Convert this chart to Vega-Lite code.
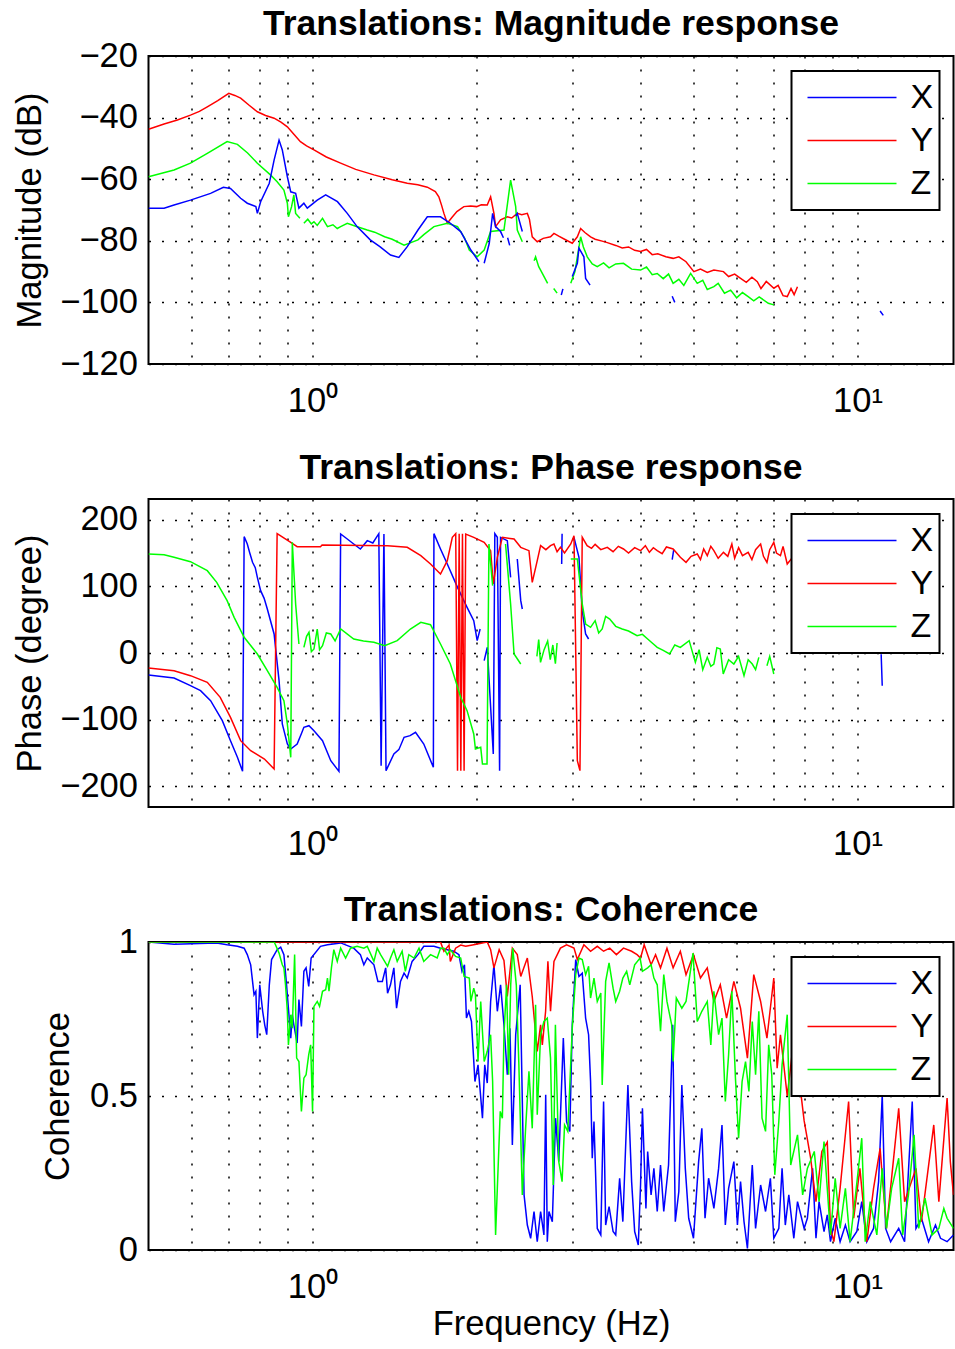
{
"$schema":"https://vega.github.io/schema/vega-lite/v6.json",
"background":"white",
"padding":{"left":11.5,"top":5,"right":1,"bottom":10},
"bounds":"flush",
"spacing":135,
"config":{
"font":"Liberation Sans",
"view":{"stroke":"black","strokeWidth":2},
"axis":{"labelFont":"Liberation Sans","labelFontSize":34.5,"labelColor":"black","titleFont":"Liberation Sans","titleFontSize":34.5,"titleFontWeight":"normal","titleColor":"black","grid":true,"gridColor":"black","gridDash":[2,11],"gridWidth":1.5,"gridOpacity":1,"domain":false,"ticks":false},
"title":{"font":"Liberation Sans","fontSize":35.5,"fontWeight":"bold","color":"black","anchor":"middle","frame":"group","offset":16},
"legend":{"strokeWidth":2}
},
"datasets":{
"mag":[
{"f":0.5,"s":"Y","v":-43.8},{"f":0.534,"s":"Y","v":-42.1},{"f":0.565,"s":"Y","v":-40.8},{"f":0.597,"s":"Y","v":-39.2},{"f":0.62,"s":"Y","v":-38.0},{"f":0.641,"s":"Y","v":-36.5},{"f":0.67,"s":"Y","v":-34.5},{"f":0.702,"s":"Y","v":-32.1},{"f":0.72,"s":"Y","v":-32.8},{"f":0.738,"s":"Y","v":-33.7},{"f":0.765,"s":"Y","v":-36},{"f":0.792,"s":"Y","v":-38.1},{"f":0.82,"s":"Y","v":-39.3},{"f":0.85,"s":"Y","v":-40.2},{"f":0.875,"s":"Y","v":-41.5},{"f":0.899,"s":"Y","v":-43},{"f":0.925,"s":"Y","v":-45.5},{"f":0.95,"s":"Y","v":-47.8},{"f":0.975,"s":"Y","v":-49.2},{"f":1.006,"s":"Y","v":-50.5},{"f":1.06,"s":"Y","v":-52.8},{"f":1.126,"s":"Y","v":-54.8},{"f":1.2,"s":"Y","v":-56.8},{"f":1.296,"s":"Y","v":-58.6},{"f":1.4,"s":"Y","v":-60.2},{"f":1.492,"s":"Y","v":-61.3},{"f":1.56,"s":"Y","v":-61.8},{"f":1.624,"s":"Y","v":-62.6},{"f":1.68,"s":"Y","v":-64},{"f":1.705,"s":"Y","v":-65.7},{"f":1.725,"s":"Y","v":-68.5},{"f":1.742,"s":"Y","v":-71.1},{"f":1.767,"s":"Y","v":-74.3},{"f":1.8,"s":"Y","v":-72.5},{"f":1.84,"s":"Y","v":-70.5},{"f":1.895,"s":"Y","v":-68.9},{"f":1.95,"s":"Y","v":-68.7},{"f":2.0,"s":"Y","v":-68.9},{"f":2.04,"s":"Y","v":-68.3},{"f":2.092,"s":"Y","v":-68.4},{"f":2.122,"s":"Y","v":-65.7},{"f":2.152,"s":"Y","v":-71.1},{"f":2.167,"s":"Y","v":-75.4},{"f":2.213,"s":"Y","v":-73.2},{"f":2.277,"s":"Y","v":-72.2},{"f":2.32,"s":"Y","v":-72.6},{"f":2.375,"s":"Y","v":-71.1},{"f":2.42,"s":"Y","v":-71.5},{"f":2.478,"s":"Y","v":-71.1},{"f":2.5,"s":"Y","v":-73},{"f":2.53,"s":"Y","v":-78.7},{"f":2.584,"s":"Y","v":-80.3},{"f":2.65,"s":"Y","v":-79.2},{"f":2.733,"s":"Y","v":-78.7},{"f":2.773,"s":"Y","v":-77.6},{"f":2.83,"s":"Y","v":-78.5},{"f":2.9,"s":"Y","v":-79.5},{"f":2.996,"s":"Y","v":-80.8},{"f":3.061,"s":"Y","v":-78.7},{"f":3.104,"s":"Y","v":-76},{"f":3.16,"s":"Y","v":-77.3},{"f":3.237,"s":"Y","v":-78.7},{"f":3.3,"s":"Y","v":-79.5},{"f":3.4,"s":"Y","v":-80.1},{"f":3.474,"s":"Y","v":-80.6},{"f":3.6,"s":"Y","v":-81.5},{"f":3.7,"s":"Y","v":-82.3},{"f":3.8,"s":"Y","v":-82.0},{"f":3.9,"s":"Y","v":-83.1},{"f":3.998,"s":"Y","v":-83.5},{"f":4.1,"s":"Y","v":-82.8},{"f":4.2,"s":"Y","v":-84.5},{"f":4.3,"s":"Y","v":-84.2},{"f":4.45,"s":"Y","v":-85.2},{"f":4.588,"s":"Y","v":-85.7},{"f":4.7,"s":"Y","v":-85.2},{"f":4.845,"s":"Y","v":-86.8},{"f":5.008,"s":"Y","v":-90},{"f":5.15,"s":"Y","v":-89.2},{"f":5.3,"s":"Y","v":-90.3},{"f":5.45,"s":"Y","v":-89.5},{"f":5.675,"s":"Y","v":-90},{"f":5.8,"s":"Y","v":-91.6},{"f":5.95,"s":"Y","v":-90.8},{"f":6.101,"s":"Y","v":-92.2},{"f":6.25,"s":"Y","v":-93.5},{"f":6.4,"s":"Y","v":-91.8},{"f":6.548,"s":"Y","v":-93.3},{"f":6.65,"s":"Y","v":-95.5},{"f":6.8,"s":"Y","v":-93.2},{"f":7.023,"s":"Y","v":-95.4},{"f":7.15,"s":"Y","v":-94.5},{"f":7.3,"s":"Y","v":-97.8},{"f":7.432,"s":"Y","v":-98.1},{"f":7.55,"s":"Y","v":-95.5},{"f":7.65,"s":"Y","v":-97.5},{"f":7.759,"s":"Y","v":-94.9},
{"f":0.5,"s":"Z","v":-59.2},{"f":0.557,"s":"Z","v":-57},{"f":0.597,"s":"Z","v":-54.8},{"f":0.641,"s":"Z","v":-51.6},{"f":0.697,"s":"Z","v":-47.8},{"f":0.728,"s":"Z","v":-48.7},{"f":0.76,"s":"Z","v":-51.5},{"f":0.792,"s":"Z","v":-54.8},{"f":0.837,"s":"Z","v":-58.6},{"f":0.861,"s":"Z","v":-60.8},{"f":0.886,"s":"Z","v":-63.5},{"f":0.899,"s":"Z","v":-67.8},{"f":0.903,"s":"Z","v":-72.2},{"f":0.915,"s":"Z","v":-69},{"f":0.924,"s":"Z","v":-65.1},{"f":0.931,"s":"Z","v":-71.1},{"f":0.948,"s":"Z","v":-72.7},{"f":0.956,"s":"Z","v":null},{"f":0.964,"s":"Z","v":-74.3},{"f":0.98,"s":"Z","v":-73},{"f":0.995,"s":"Z","v":-74.5},{"f":1.006,"s":"Z","v":-73.8},{"f":1.02,"s":"Z","v":-75},{"f":1.043,"s":"Z","v":-72.7},{"f":1.065,"s":"Z","v":-75.4},{"f":1.09,"s":"Z","v":-74.8},{"f":1.11,"s":"Z","v":-76},{"f":1.126,"s":"Z","v":-75.4},{"f":1.158,"s":"Z","v":-74.3},{"f":1.2,"s":"Z","v":-75.3},{"f":1.26,"s":"Z","v":-76.5},{"f":1.3,"s":"Z","v":-77.2},{"f":1.356,"s":"Z","v":-78.7},{"f":1.4,"s":"Z","v":-79.5},{"f":1.472,"s":"Z","v":-81.4},{"f":1.561,"s":"Z","v":-79.7},{"f":1.6,"s":"Z","v":-78},{"f":1.67,"s":"Z","v":-75.4},{"f":1.767,"s":"Z","v":-74.3},{"f":1.845,"s":"Z","v":-75.4},{"f":1.9,"s":"Z","v":-79},{"f":1.939,"s":"Z","v":-83},{"f":2.005,"s":"Z","v":-85.2},{"f":2.065,"s":"Z","v":-83},{"f":2.122,"s":"Z","v":-77},{"f":2.245,"s":"Z","v":-76.5},{"f":2.309,"s":"Z","v":-60.3},{"f":2.359,"s":"Z","v":-68.9},{"f":2.375,"s":"Z","v":-76.5},{"f":2.426,"s":"Z","v":-80.3},{"f":2.49,"s":"Z","v":null},{"f":2.55,"s":"Z","v":-86.5},{"f":2.566,"s":"Z","v":-85.2},{"f":2.6,"s":"Z","v":-88.4},{"f":2.621,"s":"Z","v":-89.5},{"f":2.7,"s":"Z","v":-93.8},{"f":2.74,"s":"Z","v":null},{"f":2.77,"s":"Z","v":-95.5},{"f":2.81,"s":"Z","v":-97},{"f":2.9,"s":"Z","v":null},{"f":2.977,"s":"Z","v":-93.8},{"f":3.03,"s":"Z","v":-90},{"f":3.061,"s":"Z","v":-85.2},{"f":3.104,"s":"Z","v":-78.7},{"f":3.14,"s":"Z","v":-82},{"f":3.192,"s":"Z","v":-85.2},{"f":3.26,"s":"Z","v":-87.5},{"f":3.33,"s":"Z","v":-88.4},{"f":3.42,"s":"Z","v":-87.2},{"f":3.5,"s":"Z","v":-88.8},{"f":3.6,"s":"Z","v":-87.5},{"f":3.72,"s":"Z","v":-87.3},{"f":3.85,"s":"Z","v":-89.2},{"f":3.998,"s":"Z","v":-89.5},{"f":4.1,"s":"Z","v":-88.5},{"f":4.2,"s":"Z","v":-91},{"f":4.29,"s":"Z","v":-90.6},{"f":4.4,"s":"Z","v":-92.3},{"f":4.5,"s":"Z","v":-90.8},{"f":4.588,"s":"Z","v":-93.8},{"f":4.7,"s":"Z","v":-92.5},{"f":4.8,"s":"Z","v":-94.5},{"f":4.94,"s":"Z","v":-90.6},{"f":5.08,"s":"Z","v":-93.8},{"f":5.2,"s":"Z","v":-92.8},{"f":5.3,"s":"Z","v":-95.8},{"f":5.45,"s":"Z","v":-94.9},{"f":5.55,"s":"Z","v":-93.8},{"f":5.7,"s":"Z","v":-97},{"f":5.85,"s":"Z","v":-96},{"f":6.0,"s":"Z","v":-98.5},{"f":6.15,"s":"Z","v":-96.8},{"f":6.3,"s":"Z","v":-98.1},{"f":6.45,"s":"Z","v":-99.5},{"f":6.6,"s":"Z","v":-98.2},{"f":6.86,"s":"Z","v":-100.3},{"f":7.023,"s":"Z","v":-100.8},
{"f":0.5,"s":"X","v":-69.4},{"f":0.534,"s":"X","v":-69.4},{"f":0.557,"s":"X","v":-68.4},{"f":0.597,"s":"X","v":-66.8},{"f":0.65,"s":"X","v":-64.6},{"f":0.686,"s":"X","v":-62.6},{"f":0.707,"s":"X","v":-63},{"f":0.738,"s":"X","v":-66.2},{"f":0.759,"s":"X","v":-67.8},{"f":0.787,"s":"X","v":-68.9},{"f":0.792,"s":"X","v":-71.1},{"f":0.803,"s":"X","v":-67.3},{"f":0.833,"s":"X","v":-61.3},{"f":0.85,"s":"X","v":-53.8},{"f":0.868,"s":"X","v":-47.3},{"f":0.88,"s":"X","v":-50.5},{"f":0.899,"s":"X","v":-59.2},{"f":0.912,"s":"X","v":-64.1},{"f":0.931,"s":"X","v":-64.6},{"f":0.944,"s":"X","v":-69.4},{"f":0.964,"s":"X","v":-67.8},{"f":0.978,"s":"X","v":-69.4},{"f":1.02,"s":"X","v":-66.8},{"f":1.057,"s":"X","v":-65.1},{"f":1.111,"s":"X","v":-67.3},{"f":1.158,"s":"X","v":-71.1},{"f":1.207,"s":"X","v":-75.4},{"f":1.276,"s":"X","v":-79.7},{"f":1.329,"s":"X","v":-81.9},{"f":1.39,"s":"X","v":-84.6},{"f":1.44,"s":"X","v":-85.4},{"f":1.492,"s":"X","v":-81.9},{"f":1.561,"s":"X","v":-76.5},{"f":1.624,"s":"X","v":-72.2},{"f":1.717,"s":"X","v":-72.2},{"f":1.79,"s":"X","v":-74.3},{"f":1.87,"s":"X","v":-77},{"f":1.952,"s":"X","v":-83},{"f":2.02,"s":"X","v":-86.8},{"f":2.04,"s":"X","v":null},{"f":2.065,"s":"X","v":-87.3},{"f":2.11,"s":"X","v":-80.8},{"f":2.14,"s":"X","v":-71.1},{"f":2.167,"s":"X","v":-75.4},{"f":2.213,"s":"X","v":-77},{"f":2.24,"s":"X","v":-79},{"f":2.26,"s":"X","v":null},{"f":2.28,"s":"X","v":-79},{"f":2.3,"s":"X","v":-81.5},{"f":2.33,"s":"X","v":null},{"f":2.36,"s":"X","v":-72},{"f":2.375,"s":"X","v":-71.1},{"f":2.426,"s":"X","v":-77},{"f":2.6,"s":"X","v":null},{"f":2.86,"s":"X","v":-97.6},{"f":2.88,"s":"X","v":-95.6},{"f":2.94,"s":"X","v":null},{"f":2.996,"s":"X","v":-91.6},{"f":3.061,"s":"X","v":-87.3},{"f":3.082,"s":"X","v":-82.4},{"f":3.147,"s":"X","v":-85.2},{"f":3.17,"s":"X","v":-92.2},{"f":3.23,"s":"X","v":-94.4},{"f":4.0,"s":"X","v":null},{"f":4.57,"s":"X","v":-98},{"f":4.62,"s":"X","v":-100},{"f":8,"s":"X","v":null},{"f":11.0,"s":"X","v":-102.8},{"f":11.15,"s":"X","v":-104.2}
],
"phase":[
{"f":0.5,"s":"X","v":-33},{"f":0.557,"s":"X","v":-37.5},{"f":0.597,"s":"X","v":-49},{"f":0.623,"s":"X","v":-56.5},{"f":0.65,"s":"X","v":-71.5},{"f":0.683,"s":"X","v":-101.5},{"f":0.707,"s":"X","v":-131.5},{"f":0.728,"s":"X","v":-156.5},{"f":0.744,"s":"X","v":-177.5},{"f":0.749,"s":"X","v":174.5},{"f":0.759,"s":"X","v":163.5},{"f":0.767,"s":"X","v":150},{"f":0.776,"s":"X","v":136},{"f":0.785,"s":"X","v":128},{"f":0.792,"s":"X","v":113.5},{"f":0.803,"s":"X","v":93.5},{"f":0.815,"s":"X","v":82},{"f":0.826,"s":"X","v":66},{"f":0.85,"s":"X","v":28.5},{"f":0.868,"s":"X","v":-41.5},{"f":0.88,"s":"X","v":-106.5},{"f":0.899,"s":"X","v":-136.5},{"f":0.912,"s":"X","v":-144},{"f":0.937,"s":"X","v":-136.5},{"f":0.955,"s":"X","v":-120},{"f":0.964,"s":"X","v":-111.5},{"f":0.985,"s":"X","v":-109},{"f":1.006,"s":"X","v":-116.5},{"f":1.043,"s":"X","v":-131.5},{"f":1.08,"s":"X","v":-161.5},{"f":1.118,"s":"X","v":-177.5},{"f":1.126,"s":"X","v":178.5},{"f":1.158,"s":"X","v":171},{"f":1.19,"s":"X","v":163.5},{"f":1.224,"s":"X","v":156},{"f":1.26,"s":"X","v":168.5},{"f":1.29,"s":"X","v":165},{"f":1.323,"s":"X","v":179},{"f":1.336,"s":"X","v":-169},{"f":1.352,"s":"X","v":178.5},{"f":1.364,"s":"X","v":-176.5},{"f":1.41,"s":"X","v":-151.5},{"f":1.44,"s":"X","v":-145},{"f":1.472,"s":"X","v":-126.5},{"f":1.51,"s":"X","v":-124},{"f":1.545,"s":"X","v":-119},{"f":1.6,"s":"X","v":-136.5},{"f":1.666,"s":"X","v":-171.5},{"f":1.67,"s":"X","v":179},{"f":1.717,"s":"X","v":156},{"f":1.767,"s":"X","v":133.5},{"f":1.845,"s":"X","v":98.5},{"f":1.921,"s":"X","v":68.5},{"f":1.976,"s":"X","v":48.5},{"f":2.005,"s":"X","v":18.5},{"f":2.03,"s":"X","v":36},{"f":2.045,"s":"X","v":null},{"f":2.065,"s":"X","v":-11.5},{"f":2.092,"s":"X","v":8.5},{"f":2.146,"s":"X","v":-151.5},{"f":2.16,"s":"X","v":179},{"f":2.183,"s":"X","v":173.5},{"f":2.204,"s":"X","v":-176.5},{"f":2.213,"s":"X","v":173.5},{"f":2.277,"s":"X","v":168.5},{"f":2.309,"s":"X","v":113.5},{"f":2.34,"s":"X","v":null},{"f":2.375,"s":"X","v":141},{"f":2.41,"s":"X","v":78.5},{"f":2.426,"s":"X","v":66},{"f":2.6,"s":"X","v":null},{"f":2.865,"s":"X","v":133.5},{"f":2.87,"s":"X","v":179},{"f":2.95,"s":"X","v":null},{"f":3.018,"s":"X","v":173.5},{"f":3.082,"s":"X","v":143.5},{"f":3.125,"s":"X","v":63.5},{"f":3.17,"s":"X","v":28.5},{"f":3.21,"s":"X","v":21},{"f":4.0,"s":"X","v":null},{"f":4.57,"s":"X","v":140},{"f":4.6,"s":"X","v":155},{"f":8,"s":"X","v":null},{"f":11.05,"s":"X","v":-2},{"f":11.1,"s":"X","v":-49},
{"f":0.5,"s":"Y","v":-22.5},{"f":0.557,"s":"Y","v":-26.5},{"f":0.597,"s":"Y","v":-34},{"f":0.641,"s":"Y","v":-44},{"f":0.677,"s":"Y","v":-66.5},{"f":0.707,"s":"Y","v":-96.5},{"f":0.738,"s":"Y","v":-131.5},{"f":0.77,"s":"Y","v":-146.5},{"f":0.816,"s":"Y","v":-159},{"f":0.85,"s":"Y","v":-174},{"f":0.861,"s":"Y","v":179},{"f":0.912,"s":"Y","v":166},{"f":0.937,"s":"Y","v":159.5},{"f":1.034,"s":"Y","v":159.5},{"f":1.041,"s":"Y","v":162},{"f":1.373,"s":"Y","v":161},{"f":1.492,"s":"Y","v":158.5},{"f":1.58,"s":"Y","v":146},{"f":1.646,"s":"Y","v":133.5},{"f":1.717,"s":"Y","v":118.5},{"f":1.767,"s":"Y","v":138.5},{"f":1.805,"s":"Y","v":173.5},{"f":1.831,"s":"Y","v":179},{"f":1.845,"s":"Y","v":-176.5},{"f":1.858,"s":"Y","v":179},{"f":1.871,"s":"Y","v":-176.5},{"f":1.884,"s":"Y","v":179},{"f":1.897,"s":"Y","v":-176.5},{"f":1.91,"s":"Y","v":178.5},{"f":1.976,"s":"Y","v":173.5},{"f":2.065,"s":"Y","v":166},{"f":2.122,"s":"Y","v":153.5},{"f":2.146,"s":"Y","v":103.5},{"f":2.183,"s":"Y","v":143.5},{"f":2.23,"s":"Y","v":173.5},{"f":2.343,"s":"Y","v":171},{"f":2.41,"s":"Y","v":158.5},{"f":2.495,"s":"Y","v":153.5},{"f":2.53,"s":"Y","v":106},{"f":2.584,"s":"Y","v":138.5},{"f":2.621,"s":"Y","v":161},{"f":2.68,"s":"Y","v":155},{"f":2.733,"s":"Y","v":161},{"f":2.773,"s":"Y","v":163.5},{"f":2.81,"s":"Y","v":152},{"f":2.85,"s":"Y","v":158.5},{"f":2.9,"s":"Y","v":150},{"f":2.977,"s":"Y","v":163.5},{"f":3.018,"s":"Y","v":176},{"f":3.061,"s":"Y","v":-161.5},{"f":3.095,"s":"Y","v":-176.5},{"f":3.125,"s":"Y","v":173.5},{"f":3.19,"s":"Y","v":161},{"f":3.25,"s":"Y","v":157},{"f":3.3,"s":"Y","v":163},{"f":3.38,"s":"Y","v":155},{"f":3.474,"s":"Y","v":158.5},{"f":3.56,"s":"Y","v":152},{"f":3.64,"s":"Y","v":160},{"f":3.72,"s":"Y","v":156},{"f":3.8,"s":"Y","v":150},{"f":3.9,"s":"Y","v":158},{"f":3.998,"s":"Y","v":153.5},{"f":4.08,"s":"Y","v":161},{"f":4.15,"s":"Y","v":151},{"f":4.22,"s":"Y","v":158},{"f":4.29,"s":"Y","v":153.5},{"f":4.38,"s":"Y","v":149},{"f":4.46,"s":"Y","v":159},{"f":4.588,"s":"Y","v":156},{"f":4.73,"s":"Y","v":143.5},{"f":4.845,"s":"Y","v":136},{"f":4.95,"s":"Y","v":145},{"f":5.08,"s":"Y","v":148.5},{"f":5.15,"s":"Y","v":140},{"f":5.22,"s":"Y","v":156},{"f":5.3,"s":"Y","v":146},{"f":5.38,"s":"Y","v":160},{"f":5.45,"s":"Y","v":153.5},{"f":5.55,"s":"Y","v":142},{"f":5.675,"s":"Y","v":151},{"f":5.78,"s":"Y","v":145},{"f":5.88,"s":"Y","v":163.5},{"f":5.95,"s":"Y","v":142},{"f":6.05,"s":"Y","v":158},{"f":6.15,"s":"Y","v":146},{"f":6.3,"s":"Y","v":151},{"f":6.4,"s":"Y","v":140},{"f":6.5,"s":"Y","v":155},{"f":6.64,"s":"Y","v":163.5},{"f":6.72,"s":"Y","v":145},{"f":6.82,"s":"Y","v":136},{"f":6.9,"s":"Y","v":155},{"f":7.02,"s":"Y","v":166},{"f":7.1,"s":"Y","v":150},{"f":7.22,"s":"Y","v":146},{"f":7.3,"s":"Y","v":160},{"f":7.43,"s":"Y","v":133.5},{"f":7.6,"s":"Y","v":143.5},{"f":7.8,"s":"Y","v":150},
{"f":0.5,"s":"Z","v":148.5},{"f":0.534,"s":"Z","v":147.5},{"f":0.557,"s":"Z","v":143.5},{"f":0.597,"s":"Z","v":137},{"f":0.641,"s":"Z","v":123.5},{"f":0.667,"s":"Z","v":106},{"f":0.697,"s":"Z","v":78.5},{"f":0.718,"s":"Z","v":53.5},{"f":0.749,"s":"Z","v":23.5},{"f":0.792,"s":"Z","v":-1.5},{"f":0.826,"s":"Z","v":-26.5},{"f":0.861,"s":"Z","v":-51.5},{"f":0.886,"s":"Z","v":-71.5},{"f":0.899,"s":"Z","v":-106.5},{"f":0.912,"s":"Z","v":-156.5},{"f":0.918,"s":"Z","v":166},{"f":0.931,"s":"Z","v":73.5},{"f":0.944,"s":"Z","v":13.5},{"f":0.954,"s":"Z","v":null},{"f":0.964,"s":"Z","v":8.5},{"f":0.975,"s":"Z","v":25},{"f":0.985,"s":"Z","v":31},{"f":0.995,"s":"Z","v":2},{"f":1.006,"s":"Z","v":6},{"f":1.02,"s":"Z","v":36},{"f":1.03,"s":"Z","v":5},{"f":1.043,"s":"Z","v":11},{"f":1.06,"s":"Z","v":30},{"f":1.08,"s":"Z","v":28.5},{"f":1.1,"s":"Z","v":18},{"f":1.126,"s":"Z","v":36},{"f":1.19,"s":"Z","v":21},{"f":1.24,"s":"Z","v":18},{"f":1.296,"s":"Z","v":16},{"f":1.356,"s":"Z","v":11},{"f":1.43,"s":"Z","v":18.5},{"f":1.512,"s":"Z","v":36},{"f":1.58,"s":"Z","v":46},{"f":1.646,"s":"Z","v":42.5},{"f":1.717,"s":"Z","v":13.5},{"f":1.79,"s":"Z","v":-16.5},{"f":1.87,"s":"Z","v":-66.5},{"f":1.921,"s":"Z","v":-86.5},{"f":1.976,"s":"Z","v":-121.5},{"f":1.99,"s":"Z","v":-144},{"f":2.035,"s":"Z","v":-141.5},{"f":2.05,"s":"Z","v":-166.5},{"f":2.09,"s":"Z","v":-166.5},{"f":2.107,"s":"Z","v":163.5},{"f":2.14,"s":"Z","v":101},{"f":2.2,"s":"Z","v":null},{"f":2.26,"s":"Z","v":163.5},{"f":2.309,"s":"Z","v":73.5},{"f":2.343,"s":"Z","v":-1.5},{"f":2.41,"s":"Z","v":-16.5},{"f":2.5,"s":"Z","v":null},{"f":2.58,"s":"Z","v":-5},{"f":2.6,"s":"Z","v":20},{"f":2.62,"s":"Z","v":-14},{"f":2.66,"s":"Z","v":5},{"f":2.7,"s":"Z","v":18},{"f":2.73,"s":"Z","v":-10},{"f":2.76,"s":"Z","v":12},{"f":2.79,"s":"Z","v":-16},{"f":2.81,"s":"Z","v":15},{"f":2.9,"s":"Z","v":null},{"f":2.977,"s":"Z","v":141},{"f":3.061,"s":"Z","v":141},{"f":3.125,"s":"Z","v":73.5},{"f":3.17,"s":"Z","v":43.5},{"f":3.237,"s":"Z","v":38.5},{"f":3.3,"s":"Z","v":48.5},{"f":3.35,"s":"Z","v":30},{"f":3.4,"s":"Z","v":36},{"f":3.45,"s":"Z","v":55},{"f":3.51,"s":"Z","v":51},{"f":3.6,"s":"Z","v":40},{"f":3.7,"s":"Z","v":36},{"f":3.8,"s":"Z","v":33},{"f":3.94,"s":"Z","v":26},{"f":4.03,"s":"Z","v":28},{"f":4.12,"s":"Z","v":21},{"f":4.2,"s":"Z","v":15},{"f":4.29,"s":"Z","v":8.5},{"f":4.4,"s":"Z","v":4},{"f":4.52,"s":"Z","v":-1.5},{"f":4.62,"s":"Z","v":12},{"f":4.73,"s":"Z","v":8.5},{"f":4.91,"s":"Z","v":18.5},{"f":5.04,"s":"Z","v":-14},{"f":5.12,"s":"Z","v":5},{"f":5.2,"s":"Z","v":-25},{"f":5.3,"s":"Z","v":-6.5},{"f":5.38,"s":"Z","v":-20},{"f":5.45,"s":"Z","v":-16.5},{"f":5.52,"s":"Z","v":8},{"f":5.6,"s":"Z","v":6},{"f":5.67,"s":"Z","v":-31.5},{"f":5.8,"s":"Z","v":-10},{"f":5.93,"s":"Z","v":-16.5},{"f":6.05,"s":"Z","v":-5},{"f":6.19,"s":"Z","v":-34},{"f":6.3,"s":"Z","v":-10},{"f":6.41,"s":"Z","v":-16.5},{"f":6.5,"s":"Z","v":-25},{"f":6.59,"s":"Z","v":-6.5},{"f":6.7,"s":"Z","v":null},{"f":6.82,"s":"Z","v":-19},{"f":6.9,"s":"Z","v":-5},{"f":7.02,"s":"Z","v":-31.5}
],
"coh":[
{"f":0.5,"s":"X","v":1.0},{"f":0.557,"s":"X","v":0.993},{"f":0.667,"s":"X","v":0.997},{"f":0.697,"s":"X","v":0.991},{"f":0.728,"s":"X","v":0.986},{"f":0.749,"s":"X","v":0.98},{"f":0.759,"s":"X","v":0.959},{"f":0.77,"s":"X","v":0.926},{"f":0.781,"s":"X","v":0.829},{"f":0.787,"s":"X","v":0.84},{"f":0.792,"s":"X","v":0.688},{"f":0.8,"s":"X","v":0.861},{"f":0.81,"s":"X","v":0.775},{"f":0.817,"s":"X","v":0.731},{"f":0.824,"s":"X","v":0.699},{"f":0.833,"s":"X","v":0.861},{"f":0.841,"s":"X","v":0.943},{"f":0.861,"s":"X","v":0.975},{"f":0.874,"s":"X","v":0.983},{"f":0.886,"s":"X","v":0.959},{"f":0.896,"s":"X","v":0.861},{"f":0.905,"s":"X","v":0.764},{"f":0.912,"s":"X","v":0.688},{"f":0.918,"s":"X","v":0.764},{"f":0.924,"s":"X","v":0.731},{"f":0.937,"s":"X","v":0.672},{"f":0.944,"s":"X","v":0.813},{"f":0.954,"s":"X","v":0.726},{"f":0.964,"s":"X","v":0.905},{"f":0.973,"s":"X","v":0.916},{"f":0.984,"s":"X","v":0.856},{"f":0.994,"s":"X","v":0.948},{"f":1.034,"s":"X","v":0.986},{"f":1.065,"s":"X","v":0.991},{"f":1.126,"s":"X","v":0.997},{"f":1.19,"s":"X","v":0.98},{"f":1.224,"s":"X","v":0.959},{"f":1.242,"s":"X","v":0.926},{"f":1.26,"s":"X","v":0.948},{"f":1.296,"s":"X","v":0.926},{"f":1.318,"s":"X","v":0.872},{"f":1.343,"s":"X","v":0.872},{"f":1.362,"s":"X","v":0.916},{"f":1.373,"s":"X","v":0.834},{"f":1.39,"s":"X","v":0.861},{"f":1.41,"s":"X","v":0.916},{"f":1.426,"s":"X","v":0.785},{"f":1.45,"s":"X","v":0.872},{"f":1.472,"s":"X","v":0.899},{"f":1.492,"s":"X","v":0.883},{"f":1.523,"s":"X","v":0.937},{"f":1.561,"s":"X","v":0.959},{"f":1.6,"s":"X","v":0.986},{"f":1.67,"s":"X","v":0.986},{"f":1.717,"s":"X","v":0.98},{"f":1.767,"s":"X","v":0.975},{"f":1.816,"s":"X","v":0.97},{"f":1.856,"s":"X","v":0.959},{"f":1.88,"s":"X","v":0.905},{"f":1.9,"s":"X","v":0.926},{"f":1.916,"s":"X","v":0.753},{"f":1.935,"s":"X","v":0.775},{"f":1.957,"s":"X","v":0.742},{"f":1.986,"s":"X","v":0.547},{"f":2.012,"s":"X","v":0.601},{"f":2.05,"s":"X","v":0.428},{"f":2.07,"s":"X","v":0.601},{"f":2.092,"s":"X","v":0.542},{"f":2.122,"s":"X","v":0.807},{"f":2.152,"s":"X","v":0.926},{"f":2.183,"s":"X","v":0.775},{"f":2.213,"s":"X","v":0.861},{"f":2.245,"s":"X","v":0.731},{"f":2.277,"s":"X","v":0.569},{"f":2.303,"s":"X","v":0.72},{"f":2.326,"s":"X","v":0.341},{"f":2.359,"s":"X","v":0.699},{"f":2.404,"s":"X","v":0.861},{"f":2.444,"s":"X","v":0.179},{"f":2.478,"s":"X","v":0.081},{"f":2.513,"s":"X","v":0.038},{"f":2.549,"s":"X","v":0.125},{"f":2.584,"s":"X","v":0.027},{"f":2.621,"s":"X","v":0.125},{"f":2.658,"s":"X","v":0.049},{"f":2.678,"s":"X","v":0.504},{"f":2.696,"s":"X","v":0.027},{"f":2.715,"s":"X","v":0.125},{"f":2.754,"s":"X","v":0.092},{"f":2.792,"s":"X","v":0.428},{"f":2.83,"s":"X","v":0.287},{"f":2.885,"s":"X","v":0.688},{"f":2.925,"s":"X","v":0.417},{"f":2.965,"s":"X","v":0.385},{"f":2.996,"s":"X","v":0.731},{"f":3.04,"s":"X","v":0.943},{"f":3.082,"s":"X","v":0.888},{"f":3.125,"s":"X","v":0.899},{"f":3.17,"s":"X","v":0.753},{"f":3.21,"s":"X","v":0.699},{"f":3.237,"s":"X","v":0.547},{"f":3.26,"s":"X","v":0.298},{"f":3.284,"s":"X","v":0.417},{"f":3.33,"s":"X","v":0.07},{"f":3.38,"s":"X","v":0.049},{"f":3.42,"s":"X","v":0.482},{"f":3.45,"s":"X","v":0.081},{"f":3.5,"s":"X","v":0.141},{"f":3.56,"s":"X","v":0.06},{"f":3.6,"s":"X","v":0.049},{"f":3.66,"s":"X","v":0.233},{"f":3.71,"s":"X","v":0.092},{"f":3.79,"s":"X","v":0.536},{"f":3.85,"s":"X","v":0.222},{"f":3.9,"s":"X","v":0.06},{"f":3.96,"s":"X","v":0.016},{"f":3.998,"s":"X","v":0.211},{"f":4.03,"s":"X","v":0.46},{"f":4.09,"s":"X","v":0.135},{"f":4.12,"s":"X","v":0.32},{"f":4.18,"s":"X","v":0.179},{"f":4.23,"s":"X","v":0.265},{"f":4.29,"s":"X","v":0.125},{"f":4.35,"s":"X","v":0.276},{"f":4.41,"s":"X","v":0.125},{"f":4.5,"s":"X","v":0.276},{"f":4.58,"s":"X","v":0.731},{"f":4.63,"s":"X","v":0.092},{"f":4.7,"s":"X","v":0.19},{"f":4.76,"s":"X","v":0.536},{"f":4.83,"s":"X","v":0.265},{"f":4.9,"s":"X","v":0.103},{"f":5.0,"s":"X","v":0.038},{"f":5.11,"s":"X","v":0.287},{"f":5.18,"s":"X","v":0.395},{"f":5.25,"s":"X","v":0.103},{"f":5.33,"s":"X","v":0.233},{"f":5.45,"s":"X","v":0.135},{"f":5.56,"s":"X","v":0.265},{"f":5.64,"s":"X","v":0.406},{"f":5.72,"s":"X","v":0.081},{"f":5.8,"s":"X","v":0.2},{"f":5.93,"s":"X","v":0.287},{"f":6.02,"s":"X","v":0.081},{"f":6.1,"s":"X","v":0.222},{"f":6.19,"s":"X","v":0.092},{"f":6.28,"s":"X","v":0.005},{"f":6.41,"s":"X","v":0.276},{"f":6.5,"s":"X","v":0.07},{"f":6.64,"s":"X","v":0.211},{"f":6.78,"s":"X","v":0.125},{"f":6.92,"s":"X","v":0.233},{"f":7.02,"s":"X","v":0.038},{"f":7.17,"s":"X","v":0.07},{"f":7.27,"s":"X","v":0.265},{"f":7.37,"s":"X","v":0.081},{"f":7.48,"s":"X","v":0.179},{"f":7.64,"s":"X","v":0.038},{"f":7.76,"s":"X","v":0.157},{"f":7.98,"s":"X","v":0.07},{"f":8.09,"s":"X","v":0.103},{"f":8.27,"s":"X","v":0.265},{"f":8.39,"s":"X","v":0.038},{"f":8.5,"s":"X","v":0.157},{"f":8.68,"s":"X","v":0.06},{"f":8.8,"s":"X","v":0.114},{"f":8.92,"s":"X","v":0.027},{"f":9.1,"s":"X","v":0.103},{"f":9.29,"s":"X","v":0.027},{"f":9.5,"s":"X","v":0.081},{"f":9.69,"s":"X","v":0.027},{"f":9.97,"s":"X","v":0.06},{"f":10.18,"s":"X","v":0.157},{"f":10.4,"s":"X","v":0.027},{"f":10.7,"s":"X","v":0.07},{"f":10.93,"s":"X","v":0.222},{"f":11.1,"s":"X","v":0.504},{"f":11.26,"s":"X","v":0.07},{"f":11.5,"s":"X","v":0.027},{"f":11.9,"s":"X","v":0.07},{"f":12.2,"s":"X","v":0.027},{"f":12.6,"s":"X","v":0.482},{"f":12.8,"s":"X","v":0.07},{"f":13.1,"s":"X","v":0.103},{"f":13.5,"s":"X","v":0.027},{"f":13.9,"s":"X","v":0.081},{"f":14.2,"s":"X","v":0.038},{"f":14.6,"s":"X","v":0.027},{"f":15,"s":"X","v":0.049},
{"f":0.5,"s":"Y","v":1},{"f":1.717,"s":"Y","v":1},{"f":1.742,"s":"Y","v":0.97},{"f":1.78,"s":"Y","v":0.99},{"f":1.79,"s":"Y","v":0.937},{"f":1.83,"s":"Y","v":0.98},{"f":1.87,"s":"Y","v":0.99},{"f":1.91,"s":"Y","v":0.986},{"f":1.976,"s":"Y","v":0.991},{"f":2.092,"s":"Y","v":1.0},{"f":2.122,"s":"Y","v":0.975},{"f":2.152,"s":"Y","v":0.916},{"f":2.2,"s":"Y","v":0.975},{"f":2.245,"s":"Y","v":0.94},{"f":2.277,"s":"Y","v":0.823},{"f":2.326,"s":"Y","v":0.98},{"f":2.375,"s":"Y","v":0.959},{"f":2.41,"s":"Y","v":0.888},{"f":2.478,"s":"Y","v":0.948},{"f":2.53,"s":"Y","v":0.823},{"f":2.584,"s":"Y","v":0.645},{"f":2.621,"s":"Y","v":0.731},{"f":2.64,"s":"Y","v":0.666},{"f":2.677,"s":"Y","v":0.775},{"f":2.703,"s":"Y","v":0.937},{"f":2.733,"s":"Y","v":0.775},{"f":2.773,"s":"Y","v":0.937},{"f":2.85,"s":"Y","v":0.98},{"f":2.925,"s":"Y","v":0.991},{"f":3.018,"s":"Y","v":0.98},{"f":3.061,"s":"Y","v":0.943},{"f":3.147,"s":"Y","v":0.991},{"f":3.237,"s":"Y","v":0.97},{"f":3.33,"s":"Y","v":0.986},{"f":3.42,"s":"Y","v":0.97},{"f":3.51,"s":"Y","v":0.98},{"f":3.61,"s":"Y","v":0.959},{"f":3.72,"s":"Y","v":0.98},{"f":3.85,"s":"Y","v":0.97},{"f":3.94,"s":"Y","v":0.959},{"f":3.998,"s":"Y","v":0.948},{"f":4.06,"s":"Y","v":0.991},{"f":4.18,"s":"Y","v":0.926},{"f":4.26,"s":"Y","v":0.959},{"f":4.35,"s":"Y","v":0.916},{"f":4.47,"s":"Y","v":0.98},{"f":4.588,"s":"Y","v":0.916},{"f":4.73,"s":"Y","v":0.97},{"f":4.845,"s":"Y","v":0.894},{"f":5.0,"s":"Y","v":0.959},{"f":5.15,"s":"Y","v":0.883},{"f":5.3,"s":"Y","v":0.916},{"f":5.45,"s":"Y","v":0.807},{"f":5.6,"s":"Y","v":0.861},{"f":5.75,"s":"Y","v":0.753},{"f":5.93,"s":"Y","v":0.872},{"f":6.1,"s":"Y","v":0.785},{"f":6.28,"s":"Y","v":0.623},{"f":6.45,"s":"Y","v":0.894},{"f":6.64,"s":"Y","v":0.807},{"f":6.82,"s":"Y","v":0.688},{"f":7.02,"s":"Y","v":0.883},{"f":7.12,"s":"Y","v":0.59},{"f":7.22,"s":"Y","v":0.699},{"f":7.43,"s":"Y","v":0.5},{"f":7.6,"s":"Y","v":0.65},{"f":7.76,"s":"Y","v":0.6},{"f":7.98,"s":"Y","v":0.42},{"f":8.2,"s":"Y","v":0.3},{"f":8.39,"s":"Y","v":0.157},{"f":8.6,"s":"Y","v":0.32},{"f":8.8,"s":"Y","v":0.35},{"f":8.92,"s":"Y","v":0.07},{"f":9.05,"s":"Y","v":0.027},{"f":9.29,"s":"Y","v":0.2},{"f":9.63,"s":"Y","v":0.482},{"f":9.84,"s":"Y","v":0.103},{"f":10.1,"s":"Y","v":0.265},{"f":10.4,"s":"Y","v":0.027},{"f":10.7,"s":"Y","v":0.2},{"f":11.0,"s":"Y","v":0.33},{"f":11.3,"s":"Y","v":0.07},{"f":11.9,"s":"Y","v":0.46},{"f":12.2,"s":"Y","v":0.157},{"f":12.8,"s":"Y","v":0.265},{"f":13.1,"s":"Y","v":0.092},{"f":13.8,"s":"Y","v":0.406},{"f":14.1,"s":"Y","v":0.157},{"f":14.6,"s":"Y","v":0.493},{"f":14.8,"s":"Y","v":0.287},{"f":15,"s":"Y","v":0.179},
{"f":0.5,"s":"Z","v":1},{"f":0.85,"s":"Z","v":1},{"f":0.855,"s":"Z","v":0.991},{"f":0.868,"s":"Z","v":0.964},{"f":0.88,"s":"Z","v":0.926},{"f":0.886,"s":"Z","v":0.916},{"f":0.892,"s":"Z","v":0.861},{"f":0.899,"s":"Z","v":0.775},{"f":0.903,"s":"Z","v":0.666},{"f":0.912,"s":"Z","v":0.764},{"f":0.918,"s":"Z","v":0.72},{"f":0.927,"s":"Z","v":0.959},{"f":0.935,"s":"Z","v":0.623},{"f":0.944,"s":"Z","v":0.612},{"f":0.954,"s":"Z","v":0.45},{"f":0.964,"s":"Z","v":0.558},{"f":0.973,"s":"Z","v":0.569},{"f":0.984,"s":"Z","v":0.634},{"f":0.992,"s":"Z","v":0.666},{"f":1.0,"s":"Z","v":0.45},{"f":1.006,"s":"Z","v":0.791},{"f":1.02,"s":"Z","v":0.807},{"f":1.03,"s":"Z","v":0.791},{"f":1.043,"s":"Z","v":0.84},{"f":1.057,"s":"Z","v":0.845},{"f":1.065,"s":"Z","v":0.883},{"f":1.072,"s":"Z","v":0.84},{"f":1.083,"s":"Z","v":0.916},{"f":1.094,"s":"Z","v":0.975},{"f":1.11,"s":"Z","v":0.937},{"f":1.126,"s":"Z","v":0.98},{"f":1.15,"s":"Z","v":0.948},{"f":1.174,"s":"Z","v":0.98},{"f":1.207,"s":"Z","v":0.986},{"f":1.242,"s":"Z","v":0.98},{"f":1.26,"s":"Z","v":0.986},{"f":1.296,"s":"Z","v":0.937},{"f":1.314,"s":"Z","v":0.98},{"f":1.333,"s":"Z","v":0.959},{"f":1.373,"s":"Z","v":0.921},{"f":1.39,"s":"Z","v":0.948},{"f":1.41,"s":"Z","v":0.975},{"f":1.43,"s":"Z","v":0.937},{"f":1.46,"s":"Z","v":0.97},{"f":1.48,"s":"Z","v":0.905},{"f":1.502,"s":"Z","v":0.959},{"f":1.535,"s":"Z","v":0.948},{"f":1.568,"s":"Z","v":0.98},{"f":1.6,"s":"Z","v":0.937},{"f":1.646,"s":"Z","v":0.959},{"f":1.693,"s":"Z","v":0.948},{"f":1.717,"s":"Z","v":0.98},{"f":1.742,"s":"Z","v":0.98},{"f":1.767,"s":"Z","v":0.959},{"f":1.79,"s":"Z","v":0.975},{"f":1.83,"s":"Z","v":0.953},{"f":1.87,"s":"Z","v":0.948},{"f":1.897,"s":"Z","v":0.888},{"f":1.939,"s":"Z","v":0.883},{"f":1.952,"s":"Z","v":0.807},{"f":1.976,"s":"Z","v":0.85},{"f":1.99,"s":"Z","v":0.829},{"f":2.012,"s":"Z","v":0.612},{"f":2.035,"s":"Z","v":0.807},{"f":2.065,"s":"Z","v":0.612},{"f":2.092,"s":"Z","v":0.645},{"f":2.122,"s":"Z","v":0.699},{"f":2.14,"s":"Z","v":0.547},{"f":2.167,"s":"Z","v":0.049},{"f":2.183,"s":"Z","v":0.2},{"f":2.21,"s":"Z","v":0.45},{"f":2.23,"s":"Z","v":0.428},{"f":2.245,"s":"Z","v":0.699},{"f":2.27,"s":"Z","v":0.861},{"f":2.29,"s":"Z","v":0.569},{"f":2.31,"s":"Z","v":0.861},{"f":2.33,"s":"Z","v":0.98},{"f":2.365,"s":"Z","v":0.861},{"f":2.39,"s":"Z","v":0.612},{"f":2.426,"s":"Z","v":0.179},{"f":2.46,"s":"Z","v":0.395},{"f":2.495,"s":"Z","v":0.58},{"f":2.53,"s":"Z","v":0.395},{"f":2.566,"s":"Z","v":0.796},{"f":2.584,"s":"Z","v":0.439},{"f":2.621,"s":"Z","v":0.699},{"f":2.658,"s":"Z","v":0.742},{"f":2.696,"s":"Z","v":0.753},{"f":2.733,"s":"Z","v":0.623},{"f":2.765,"s":"Z","v":0.211},{"f":2.79,"s":"Z","v":0.731},{"f":2.83,"s":"Z","v":0.287},{"f":2.87,"s":"Z","v":0.222},{"f":2.9,"s":"Z","v":0.406},{"f":2.94,"s":"Z","v":0.385},{"f":2.996,"s":"Z","v":0.72},{"f":3.04,"s":"Z","v":0.894},{"f":3.082,"s":"Z","v":0.948},{"f":3.125,"s":"Z","v":0.943},{"f":3.17,"s":"Z","v":0.894},{"f":3.21,"s":"Z","v":0.921},{"f":3.237,"s":"Z","v":0.818},{"f":3.284,"s":"Z","v":0.883},{"f":3.33,"s":"Z","v":0.807},{"f":3.38,"s":"Z","v":0.834},{"f":3.4,"s":"Z","v":0.536},{"f":3.45,"s":"Z","v":0.872},{"f":3.5,"s":"Z","v":0.932},{"f":3.56,"s":"Z","v":0.85},{"f":3.6,"s":"Z","v":0.807},{"f":3.66,"s":"Z","v":0.84},{"f":3.71,"s":"Z","v":0.883},{"f":3.77,"s":"Z","v":0.905},{"f":3.82,"s":"Z","v":0.861},{"f":3.9,"s":"Z","v":0.926},{"f":3.99,"s":"Z","v":0.948},{"f":4.03,"s":"Z","v":0.905},{"f":4.12,"s":"Z","v":0.916},{"f":4.18,"s":"Z","v":0.926},{"f":4.23,"s":"Z","v":0.883},{"f":4.29,"s":"Z","v":0.861},{"f":4.35,"s":"Z","v":0.71},{"f":4.41,"s":"Z","v":0.894},{"f":4.47,"s":"Z","v":0.807},{"f":4.56,"s":"Z","v":0.731},{"f":4.588,"s":"Z","v":0.612},{"f":4.65,"s":"Z","v":0.818},{"f":4.76,"s":"Z","v":0.785},{"f":4.845,"s":"Z","v":0.807},{"f":4.99,"s":"Z","v":0.964},{"f":5.08,"s":"Z","v":0.742},{"f":5.18,"s":"Z","v":0.775},{"f":5.3,"s":"Z","v":0.807},{"f":5.38,"s":"Z","v":0.666},{"f":5.45,"s":"Z","v":0.84},{"f":5.56,"s":"Z","v":0.699},{"f":5.64,"s":"Z","v":0.753},{"f":5.72,"s":"Z","v":0.482},{"f":5.8,"s":"Z","v":0.634},{"f":5.88,"s":"Z","v":0.84},{"f":5.97,"s":"Z","v":0.558},{"f":6.05,"s":"Z","v":0.363},{"f":6.14,"s":"Z","v":0.547},{"f":6.23,"s":"Z","v":0.612},{"f":6.32,"s":"Z","v":0.515},{"f":6.41,"s":"Z","v":0.742},{"f":6.5,"s":"Z","v":0.569},{"f":6.59,"s":"Z","v":0.775},{"f":6.68,"s":"Z","v":0.428},{"f":6.78,"s":"Z","v":0.385},{"f":6.87,"s":"Z","v":0.666},{"f":6.96,"s":"Z","v":0.569},{"f":7.05,"s":"Z","v":0.244},{"f":7.17,"s":"Z","v":0.417},{"f":7.27,"s":"Z","v":0.601},{"f":7.43,"s":"Z","v":0.764},{"f":7.54,"s":"Z","v":0.276},{"f":7.76,"s":"Z","v":0.374},{"f":7.93,"s":"Z","v":0.179},{"f":8.09,"s":"Z","v":0.265},{"f":8.33,"s":"Z","v":0.32},{"f":8.5,"s":"Z","v":0.157},{"f":8.68,"s":"Z","v":0.352},{"f":8.92,"s":"Z","v":0.049},{"f":9.1,"s":"Z","v":0.233},{"f":9.29,"s":"Z","v":0.07},{"f":9.5,"s":"Z","v":0.2},{"f":9.69,"s":"Z","v":0.027},{"f":9.9,"s":"Z","v":0.168},{"f":10.18,"s":"Z","v":0.363},{"f":10.33,"s":"Z","v":0.027},{"f":10.55,"s":"Z","v":0.157},{"f":10.85,"s":"Z","v":0.049},{"f":11.1,"s":"Z","v":0.265},{"f":11.3,"s":"Z","v":0.07},{"f":11.55,"s":"Z","v":0.2},{"f":11.9,"s":"Z","v":0.298},{"f":12.1,"s":"Z","v":0.049},{"f":12.4,"s":"Z","v":0.179},{"f":12.7,"s":"Z","v":0.374},{"f":12.95,"s":"Z","v":0.07},{"f":13.3,"s":"Z","v":0.168},{"f":13.7,"s":"Z","v":0.049},{"f":14.1,"s":"Z","v":0.07},{"f":14.4,"s":"Z","v":0.135},{"f":14.6,"s":"Z","v":0.103},{"f":15,"s":"Z","v":0.07}
]
},
"resolve":{"scale":{"x":"independent","y":"independent","color":"independent"},"legend":{"color":"independent"}},
"vconcat":[
{
"title":{"text":"Translations: Magnitude response","offset":-4},
"width":805,"height":308,
"data":{"name":"mag"},
"mark":{"type":"line","strokeWidth":1.5,"clip":true,"invalid":"break-paths-show-path-domains"},
"encoding":{
"x":{"field":"f","type":"quantitative","scale":{"type":"log","domain":[0.5,15],"nice":false},"axis":{"values":[0.6,0.7,0.8,0.9,1,2,3,4,5,6,7,8,9,10],"labelExpr":"datum.value == 1 ? '10\u2070' : datum.value == 10 ? '10\u00b9' : ''","title":null,"labelPadding":20,"labelOverlap":false}},
"y":{"field":"v","type":"quantitative","scale":{"domain":[-120,-20],"nice":false,"zero":false},"axis":{"values":[-120,-100,-80,-60,-40,-20],"format":"d","title":"Magnitude (dB)","labelPadding":11,"titlePadding":12}},
"color":{"field":"s","type":"nominal","scale":{"domain":["X","Y","Z"],"range":["#0000ff","#ff0000","#00ff00"]},"legend":{"title":null,"orient":"none","legendX":643,"legendY":15,"symbolType":"stroke","symbolSize":7921,"symbolStrokeWidth":1.5,"labelFontSize":34,"labelFont":"Liberation Sans","labelColor":"black","padding":6,"clipHeight":41,"rowPadding":2,"symbolOffset":9,"labelOffset":13,"strokeColor":"black","fillColor":"white"}}
}
},
{
"title":{"text":"Translations: Phase response","offset":13},
"width":805,"height":308,
"data":{"name":"phase"},
"mark":{"type":"line","strokeWidth":1.5,"clip":true,"invalid":"break-paths-show-path-domains"},
"encoding":{
"x":{"field":"f","type":"quantitative","scale":{"type":"log","domain":[0.5,15],"nice":false},"axis":{"values":[0.6,0.7,0.8,0.9,1,2,3,4,5,6,7,8,9,10],"labelExpr":"datum.value == 1 ? '10\u2070' : datum.value == 10 ? '10\u00b9' : ''","title":null,"labelPadding":20,"labelOverlap":false}},
"y":{"field":"v","type":"quantitative","scale":{"domain":[-231,231],"nice":false,"zero":false},"axis":{"values":[-200,-100,0,100,200],"format":"d","title":"Phase (degree)","labelPadding":11,"titlePadding":12}},
"color":{"field":"s","type":"nominal","scale":{"domain":["X","Y","Z"],"range":["#0000ff","#ff0000","#00ff00"]},"legend":{"title":null,"orient":"none","legendX":643,"legendY":15,"symbolType":"stroke","symbolSize":7921,"symbolStrokeWidth":1.5,"labelFontSize":34,"labelFont":"Liberation Sans","labelColor":"black","padding":6,"clipHeight":41,"rowPadding":2,"symbolOffset":9,"labelOffset":13,"strokeColor":"black","fillColor":"white"}}
}
},
{
"title":{"text":"Translations: Coherence","offset":-4},
"width":805,"height":308,
"data":{"name":"coh"},
"mark":{"type":"line","strokeWidth":1.5,"clip":true,"invalid":"break-paths-show-path-domains"},
"encoding":{
"x":{"field":"f","type":"quantitative","scale":{"type":"log","domain":[0.5,15],"nice":false},"axis":{"values":[0.6,0.7,0.8,0.9,1,2,3,4,5,6,7,8,9,10],"labelExpr":"datum.value == 1 ? '10\u2070' : datum.value == 10 ? '10\u00b9' : ''","title":"Frequency (Hz)","labelPadding":20,"labelOverlap":false,"titlePadding":4}},
"y":{"field":"v","type":"quantitative","scale":{"domain":[0,1],"nice":false,"zero":false},"axis":{"values":[0,0.5,1],"format":"~g","title":"Coherence","labelPadding":11,"titlePadding":14}},
"color":{"field":"s","type":"nominal","scale":{"domain":["X","Y","Z"],"range":["#0000ff","#ff0000","#00ff00"]},"legend":{"title":null,"orient":"none","legendX":643,"legendY":15,"symbolType":"stroke","symbolSize":7921,"symbolStrokeWidth":1.5,"labelFontSize":34,"labelFont":"Liberation Sans","labelColor":"black","padding":6,"clipHeight":41,"rowPadding":2,"symbolOffset":9,"labelOffset":13,"strokeColor":"black","fillColor":"white"}}
}
}
]
}
